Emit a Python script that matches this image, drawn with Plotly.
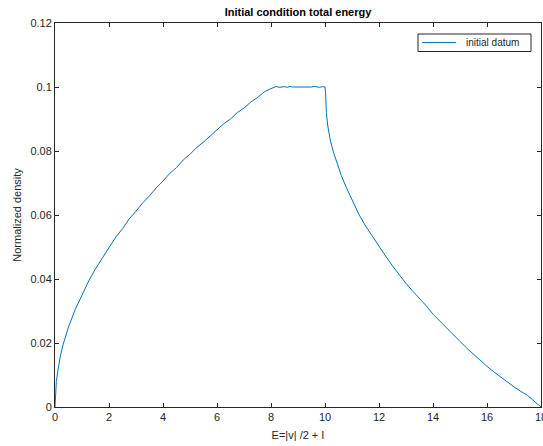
import plotly.graph_objects as go

energy = [0, 0.05, 0.1, 0.2, 0.3, 0.5, 0.75, 1, 1.25, 1.5, 1.75, 2, 2.25, 2.5, 2.75, 3,
          3.25, 3.5, 3.75, 4, 4.25, 4.5, 4.75, 5, 5.25, 5.5, 5.75, 6, 6.25, 6.5, 6.75, 7,
          7.25, 7.5, 7.75, 8, 8.1, 8.2, 8.3, 8.4, 8.5, 8.6, 8.7, 8.8, 8.9, 9, 9.1, 9.2, 9.3,
          9.4, 9.5, 9.6, 9.7, 9.8, 9.9, 10, 10.02, 10.05, 10.1, 10.2, 10.3, 10.45, 10.6,
          10.8, 11, 11.25, 11.5, 11.75, 12, 12.25, 12.5, 12.75, 13, 13.25, 13.5, 13.75, 14,
          14.25, 14.5, 14.75, 15, 15.25, 15.5, 15.75, 16, 16.25, 16.5, 16.75, 17, 17.25,
          17.5, 17.75, 18]
density = [0, 0.008, 0.011, 0.016, 0.0195, 0.025, 0.0305, 0.0352, 0.0394, 0.0432, 0.0466,
           0.0500, 0.0531, 0.0557, 0.0588, 0.0612, 0.0638, 0.0660, 0.0685, 0.0706, 0.0730,
           0.0748, 0.0772, 0.0790, 0.0811, 0.0828, 0.0848, 0.0865, 0.0885, 0.0900, 0.0920,
           0.0934, 0.0953, 0.0967, 0.0985, 0.0995, 0.0999, 0.1002, 0.0999, 0.1000, 0.1001,
           0.0999, 0.1002, 0.1000, 0.1000, 0.0999, 0.1001, 0.1000, 0.0999, 0.1001, 0.1000,
           0.1002, 0.1000, 0.0999, 0.1001, 0.1000, 0.0985, 0.0920, 0.0880, 0.0832, 0.0800,
           0.0758, 0.0724, 0.0684, 0.0646, 0.0603, 0.0566, 0.0533, 0.0502, 0.0471, 0.0441,
           0.0412, 0.0386, 0.0362, 0.0340, 0.0316, 0.0290, 0.0268, 0.0247, 0.0226, 0.0205,
           0.0184, 0.0164, 0.0146, 0.0127, 0.0110, 0.0094, 0.0079, 0.0063, 0.0049, 0.0036,
           0.0018, 0]
series_name = "initial datum"

x_ticks = [0, 2, 4, 6, 8, 10, 12, 14, 16, 18]
y_ticks = [0, 0.02, 0.04, 0.06, 0.08, 0.1, 0.12]
y_tick_text = ["0", "0.02", "0.04", "0.06", "0.08", "0.1", "0.12"]

font = "Liberation Sans, Arial, sans-serif"
axcol = "#262626"
line_color = "#0072BD"

W, H = 543, 446
ML, MR, MT, MB = 55, 2, 23, 39
pw, ph = W - ML - MR, H - MT - MB


def px_x(p):
    return (p - ML) / pw


def px_y(p):
    return 1 - (p - MT) / ph


fig = go.Figure()
fig.add_trace(go.Scatter(x=energy, y=density, mode="lines", name=series_name,
                         showlegend=False, line=dict(color=line_color, width=1)))

axis_common = dict(showgrid=False, zeroline=False, showline=True, linecolor=axcol,
                   linewidth=1, mirror="ticks", ticks="inside", ticklen=4, tickcolor=axcol,
                   automargin=False, ticklabeloverflow="allow",
                   tickfont=dict(family=font, size=11, color=axcol))

# manual legend box (MATLAB style)
fig.add_shape(type="rect", xref="paper", yref="paper",
              x0=px_x(418), x1=px_x(531), y0=px_y(51.5), y1=px_y(34),
              line=dict(color=axcol, width=1), fillcolor="white", layer="above")
fig.add_shape(type="line", xref="paper", yref="paper",
              x0=px_x(422), x1=px_x(456), y0=px_y(42.5), y1=px_y(42.5),
              line=dict(color=line_color, width=1), layer="above")
fig.add_annotation(text=series_name, xref="paper", yref="paper",
                   x=px_x(464), y=px_y(42.5), xanchor="left", yanchor="middle",
                   showarrow=False, font=dict(family=font, size=10, color=axcol))

fig.update_layout(
    width=W, height=H,
    margin=dict(l=ML, r=MR, t=MT, b=MB),
    paper_bgcolor="white", plot_bgcolor="white",
    font=dict(family=font, size=11, color=axcol),
    title=dict(text="<b>Initial condition total energy</b>", x=0.5, xref="paper",
               y=1 - 12 / H, yref="container", yanchor="middle",
               font=dict(family=font, size=11, color="black")),
    xaxis=dict(range=[0, 18], tickvals=x_ticks,
               title=dict(text="E=|v| /2 + I", standoff=9,
                          font=dict(family=font, size=11, color=axcol)),
               **axis_common),
    yaxis=dict(range=[0, 0.12], tickvals=y_ticks, ticktext=y_tick_text,
               title=dict(text="Normalized density", standoff=6,
                          font=dict(family=font, size=11, color=axcol)),
               **axis_common),
    showlegend=False,
)

fig.write_html("out.html", config={"displayModeBar": False})
with open("out.html", "r", encoding="utf-8") as f:
    html = f.read()
html = html.replace("<head>", "<head><style>html,body{margin:0;padding:0;overflow:hidden;}</style>", 1)
with open("out.html", "w", encoding="utf-8") as f:
    f.write(html)
